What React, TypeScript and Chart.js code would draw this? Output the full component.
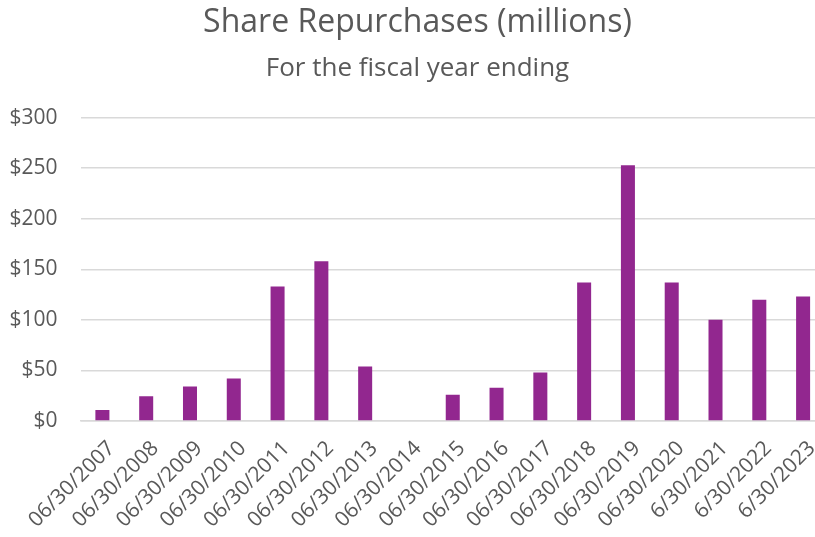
import React, { useEffect, useRef } from "react";
import { Chart, registerables } from "chart.js";

Chart.register(...registerables);

const categories = [
  "06/30/2007", "06/30/2008", "06/30/2009", "06/30/2010", "06/30/2011",
  "06/30/2012", "06/30/2013", "06/30/2014", "06/30/2015", "06/30/2016",
  "06/30/2017", "06/30/2018", "06/30/2019", "06/30/2020", "6/30/2021",
  "6/30/2022", "6/30/2023",
];
const repurchases = [11, 24.5, 34, 42, 133, 158, 54, 0, 26, 33, 48, 137, 253, 137, 100, 120, 123];
const yMin = 0;
const yMax = 300;
const yStep = 50;
const titleText = "Share Repurchases (millions)";
const subtitleText = "For the fiscal year ending";

const TEXT = "#595959";
const FONT = "'Open Sans', 'Liberation Sans', sans-serif";

export default function App() {
  const ref = useRef<HTMLCanvasElement | null>(null);
  useEffect(() => {
    if (!ref.current) return;
    const chart = new Chart(ref.current, {
      type: "bar",
      data: {
        labels: categories,
        datasets: [
          {
            data: repurchases,
            backgroundColor: "#92278F",
            borderWidth: 0,
            categoryPercentage: 1,
            barPercentage: 0.32,
          },
        ],
      },
      options: {
        responsive: false,
        animation: false,
        devicePixelRatio: 1,
        layout: { padding: { left: 10, right: 17, top: 0, bottom: 0 } },
        plugins: {
          legend: { display: false },
          tooltip: { enabled: false },
          title: {
            display: true,
            text: titleText,
            color: TEXT,
            font: { family: FONT, size: 32, weight: "normal", lineHeight: 1.2 },
            padding: { top: 4, bottom: 11 },
          },
          subtitle: {
            display: true,
            text: subtitleText,
            color: TEXT,
            font: { family: FONT, size: 26, weight: "normal", lineHeight: 1.2 },
            padding: { top: 0, bottom: 33 },
          },
        },
        scales: {
          x: {
            grid: { display: false, drawTicks: false },
            border: { display: true, color: "#d9d9d9", width: 1.5 },
            ticks: {
              color: TEXT,
              font: { family: FONT, size: 21 },
              minRotation: 45,
              maxRotation: 45,
              autoSkip: false,
              padding: 15,
              labelOffset: 9,
            },
            afterFit: (s: any) => {
              s.height = 116;
            },
          },
          y: {
            min: yMin,
            max: yMax,
            grid: { color: "#d9d9d9", lineWidth: 1.5, drawTicks: false },
            border: { display: false },
            ticks: {
              stepSize: yStep,
              color: TEXT,
              font: { family: FONT, size: 21 },
              padding: 23,
              callback: (v: any) => "$" + v,
            },
            afterFit: (s: any) => {
              s.width = 70.5;
            },
          },
        },
      },
    });
    return () => chart.destroy();
  }, []);
  return (
    <div
      style={{
        position: "fixed",
        left: 0,
        top: 0,
        width: 815,
        height: 537,
        overflow: "hidden",
        background: "#ffffff",
      }}
    >
      <canvas ref={ref} width={842} height={537} style={{ display: "block" }} />
    </div>
  );
}
